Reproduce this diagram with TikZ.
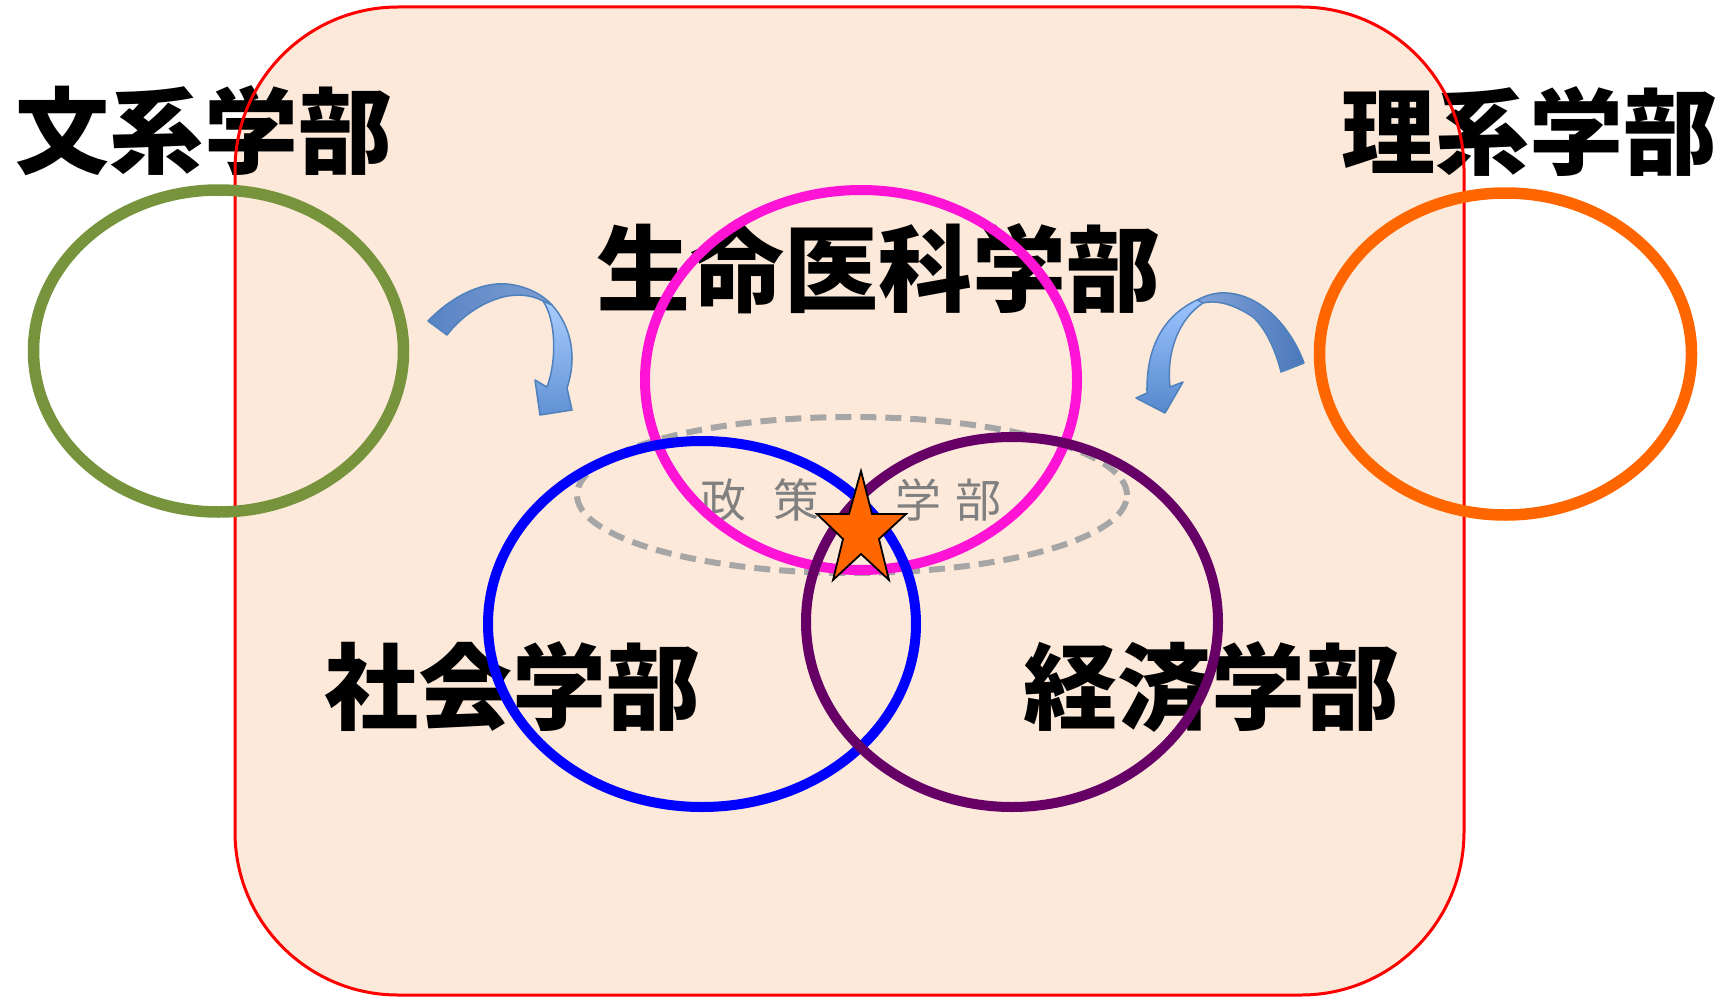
\documentclass[tikz,border=0pt]{standalone}
\usepackage{fontspec}
\newfontfamily\cjk{Noto Sans CJK JP}
\definecolor{peach}{HTML}{FCE9DA}
\definecolor{frame}{HTML}{FF0000}
\definecolor{olive}{HTML}{77933C}
\definecolor{orng}{HTML}{FF6600}
\definecolor{mgnt}{HTML}{FF14D6}
\definecolor{purp}{HTML}{660066}
\definecolor{dgray}{HTML}{A6A6A6}
\definecolor{tgray}{HTML}{808080}
\definecolor{arrline}{HTML}{4F81BD}
\definecolor{laDark}{RGB}{88,132,196}
\definecolor{laMid}{RGB}{126,158,210}
\definecolor{laLight}{RGB}{170,205,255}
\definecolor{laHead}{RGB}{96,145,212}
\definecolor{raMid}{RGB}{132,164,218}
\definecolor{raDark}{RGB}{74,120,186}
\definecolor{raLight}{RGB}{156,196,255}
\definecolor{raHead}{RGB}{85,136,204}
\tikzset{
  bigtext/.style={inner sep=0pt, font=\cjk\bfseries\fontsize{94}{94}\selectfont},
  smalltext/.style={inner sep=0pt, text=tgray, font=\cjk\fontsize{46}{46}\selectfont},
  ring/.style={line width=10pt},
  sidering/.style={line width=11.5pt},
  arrback/.style={draw=arrline, line width=1.5pt, line join=round},
}
\begin{document}
\begin{tikzpicture}[x=1pt,y=-1pt]
\fill[white] (0,0) rectangle (1731,998);
\useasboundingbox (0,0) rectangle (1731,998);
% background panel
\fill[peach, rounded corners=163pt] (235,7) rectangle (1464,995);
% labels
\node[bigtext] (bunkei) at (204,131) {文系学部};
\node[bigtext] (rikei) at (1529,132) {理系学部};
\node[bigtext] (seimei) at (878,269) {生命医科学部};
\node[bigtext] (shakai) at (512,687) {社会学部};
\node[bigtext] (keizai) at (1211,687) {経済学部};
\node[smalltext] (sei) at (723,500) {政};
\node[smalltext] (saku) at (796,500) {策};
\node[smalltext] (gaku) at (918,500) {学};
\node[smalltext] (bu) at (978,500) {部};
% frame border
\draw[frame, line width=3pt, rounded corners=163pt] (235,7) rectangle (1464,995);
% side rings
\draw[olive, sidering] (218.5,351) ellipse [x radius=185pt, y radius=161pt];
\draw[orng, sidering] (1505.5,354) ellipse [x radius=186pt, y radius=161pt];
% policy dashed ellipse
\draw[dgray, line width=6pt, dash pattern=on 16pt off 9pt] (852,495) ellipse [x radius=275pt, y radius=78pt];
% rings
\draw[mgnt, ring] (861,380) ellipse [x radius=216pt, y radius=190pt];
\draw[blue, ring] (702,624) ellipse [x radius=214pt, y radius=183pt];
\draw[purp, ring] (1012,622) ellipse [x radius=206pt, y radius=185pt];
% star
\draw[fill=orng, draw=black, line width=1.8pt, line join=miter]
  (861,471) -- (872,514) -- (906,514) -- (879,539) -- (889,580) -- (861,554)
  -- (833,580) -- (843,539) -- (817,514) -- (849,514) -- cycle;
% left curved arrow
\path[arrback, left color=laDark, right color=laMid]
  (428,321) .. controls (455,293) and (485,282) .. (507,284)
  .. controls (527,286) and (543,295) .. (552,305)
  -- (543,301) .. controls (530,294) and (515,294) .. (503,297)
  .. controls (480,303) and (460,318) .. (447,335) -- cycle;
\path[arrback, top color=laLight, bottom color=laHead]
  (552,305) .. controls (570,325) and (578,355) .. (567,388)
  -- (572,410) -- (540,415) -- (535,380) -- (547,387)
  .. controls (557,360) and (556,320) .. (543,301) -- cycle;
% right curved arrow
\path[arrback, left color=raMid, right color=raDark]
  (1304,363) .. controls (1290,325) and (1260,295) .. (1227,293)
  .. controls (1215,292) and (1205,296) .. (1197,300)
  -- (1203,303) .. controls (1215,300) and (1232,303) .. (1253,317)
  .. controls (1265,328) and (1275,348) .. (1281,372) -- cycle;
\path[arrback, top color=raLight, bottom color=raHead]
  (1197,300) .. controls (1165,315) and (1146,345) .. (1147,393)
  -- (1136,398) -- (1165,413) -- (1183,382) -- (1170,387)
  .. controls (1166,350) and (1180,318) .. (1203,303) -- cycle;
\end{tikzpicture}
\end{document}
